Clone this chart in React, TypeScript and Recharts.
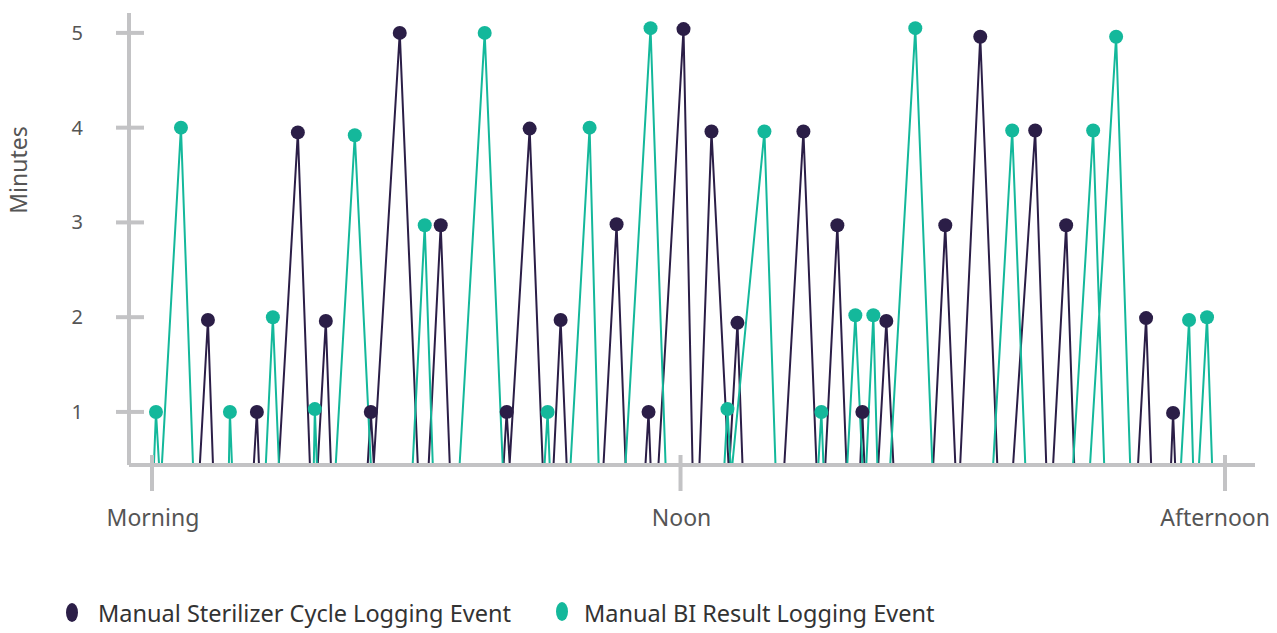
import React from 'react';
import { LineChart, Line, XAxis, YAxis } from 'recharts';

// time offsets (arbitrary units along the day), peak values and where each spike meets the axis
const sterilizerTimes = [56, 105, 146, 174, 219, 248, 289, 355, 378, 409, 465, 497, 532, 560, 586, 652, 686, 711, 735, 794, 829, 884, 915, 995, 1022];
const sterilizerValues = [1.97, 1, 3.95, 1.96, 1, 5, 2.97, 1, 3.99, 1.97, 2.98, 1, 5.04, 3.96, 1.94, 3.96, 2.97, 1, 1.96, 2.97, 4.96, 3.97, 2.97, 1.99, 0.99];
const sterilizerStart = [48, 102, 127, 166, 216, 222, 277, 352, 358, 402, 452, 494, 507, 548, 578, 633, 674, 709, 727, 782, 809, 862, 902, 987, 1020];
const sterilizerEnd = [61, 107, 158, 179, 222, 266, 298, 358, 391, 415, 474, 499, 541, 577, 591, 665, 695, 713, 742, 804, 846, 895, 923, 1000, 1024];

const biTimes = [4, 29, 78, 121, 163, 203, 273, 333, 396, 438, 499, 576, 613, 670, 704, 722, 764, 861, 942, 965, 1038, 1056];
const biValues = [1, 4, 1, 2, 1.03, 3.92, 2.97, 5, 1, 4, 5.05, 1.03, 3.96, 1, 2.02, 2.02, 5.05, 3.97, 3.97, 4.96, 1.97, 2];
const biStart = [2, 10, 77, 114, 162, 184, 261, 308, 393, 419, 474, 573, 581, 667, 696, 715, 739, 842, 922, 939, 1030, 1048];
const biEnd = [7, 41, 80, 127, 165, 219, 281, 351, 398, 447, 514, 579, 624, 672, 711, 726, 781, 874, 953, 979, 1042, 1061];

const xTicks = [0, 529, 1074];
const xTickLabels = ['Morning', 'Noon', 'Afternoon'];
const yTicks = [1, 2, 3, 4, 5];

const BASELINE = 0.46;
const Y_DOMAIN = [0.44, 5.21];
const X_DOMAIN = [-23, 1104];

const DARK = '#2b1e47';
const GREEN = '#14b89b';
const AXIS = '#c3c3c5';
const TEXT = '#555555';
const FONT = '"Noto Sans", sans-serif';

const PLOT_LEFT = 129;
const PLOT_BOTTOM = 465;

type Pt = { t: number; v: number | null; peak?: boolean };

function spikes(times: number[], values: number[], starts: number[], ends: number[]): Pt[] {
  const out: Pt[] = [];
  times.forEach((t, i) => {
    out.push({ t: starts[i], v: BASELINE });
    out.push({ t, v: values[i], peak: true });
    out.push({ t: ends[i], v: BASELINE });
    out.push({ t: ends[i], v: null });
  });
  return out;
}

const sterilizerData = spikes(sterilizerTimes, sterilizerValues, sterilizerStart, sterilizerEnd);
const biData = spikes(biTimes, biValues, biStart, biEnd);

function makeDot(color: string) {
  return (props: any) => {
    const { cx, cy, payload, index } = props;
    if (!payload?.peak || cx == null || cy == null) return <g key={`d-${index}`} />;
    return <circle key={`d-${index}`} cx={cx} cy={cy} r={7} fill={color} stroke="none" />;
  };
}

function XTick(props: any) {
  const { x, payload, index } = props;
  const last = index === xTicks.length - 1;
  return (
    <g>
      <line x1={x} x2={x} y1={PLOT_BOTTOM - 10} y2={PLOT_BOTTOM + 26} stroke={AXIS} strokeWidth={4} />
      <text
        x={last ? 1270 : x + 1}
        y={PLOT_BOTTOM + 61}
        textAnchor={last ? 'end' : 'middle'}
        fill={TEXT}
        fontSize={23}
        fontFamily={FONT}
      >
        {xTickLabels[xTicks.indexOf(payload.value)]}
      </text>
    </g>
  );
}

function YTick(props: any) {
  const { y, payload } = props;
  return (
    <g>
      <line x1={PLOT_LEFT - 13} x2={PLOT_LEFT + 15} y1={y} y2={y} stroke={AXIS} strokeWidth={4} />
      <text x={83} y={y} dy={7} textAnchor="end" fill={TEXT} fontSize={20} fontFamily={FONT}>
        {payload.value}
      </text>
    </g>
  );
}

export default function App() {
  return (
    <div style={{ position: 'relative', width: 1277, height: 633, background: '#fff', overflow: 'hidden' }}>
      <style>{'body{margin:0;}'}</style>
      <LineChart width={1277} height={633} margin={{ top: 13, right: 22, left: 0, bottom: 128 }}>
        <XAxis
          type="number"
          dataKey="t"
          domain={X_DOMAIN}
          ticks={xTicks}
          allowDataOverflow
          height={40}
          axisLine={{ stroke: AXIS, strokeWidth: 4 }}
          tickLine={false}
          tick={<XTick />}
          interval={0}
        />
        <YAxis
          type="number"
          domain={Y_DOMAIN}
          ticks={yTicks}
          allowDataOverflow
          width={PLOT_LEFT}
          axisLine={{ stroke: AXIS, strokeWidth: 4 }}
          tickLine={false}
          tick={<YTick />}
          interval={0}
          label={{
            content: () => (
              <text
                x={27}
                y={170}
                transform="rotate(-90 27 170)"
                textAnchor="middle"
                fill={TEXT}
                fontSize={23}
                fontFamily={FONT}
              >
                Minutes
              </text>
            ),
          }}
        />
        <Line
          data={sterilizerData}
          dataKey="v"
          type="linear"
          stroke={DARK}
          strokeWidth={2}
          dot={makeDot(DARK)}
          activeDot={false}
          connectNulls={false}
          isAnimationActive={false}
        />
        <Line
          data={biData}
          dataKey="v"
          type="linear"
          stroke={GREEN}
          strokeWidth={2}
          dot={makeDot(GREEN)}
          activeDot={false}
          connectNulls={false}
          isAnimationActive={false}
        />
      </LineChart>
      <div style={{ position: 'absolute', left: 0, top: 0, fontFamily: FONT, fontSize: 23.5, color: '#333' }}>
        <span style={{ position: 'absolute', left: 66, top: 603, width: 12, height: 19, borderRadius: '50%', background: DARK }} />
        <span style={{ position: 'absolute', left: 98, top: 598, lineHeight: '30px', whiteSpace: 'nowrap' }}>
          Manual Sterilizer Cycle Logging Event
        </span>
        <span style={{ position: 'absolute', left: 556, top: 602, width: 12, height: 19, borderRadius: '50%', background: GREEN }} />
        <span style={{ position: 'absolute', left: 584, top: 598, lineHeight: '30px', whiteSpace: 'nowrap' }}>
          Manual BI Result Logging Event
        </span>
      </div>
    </div>
  );
}
